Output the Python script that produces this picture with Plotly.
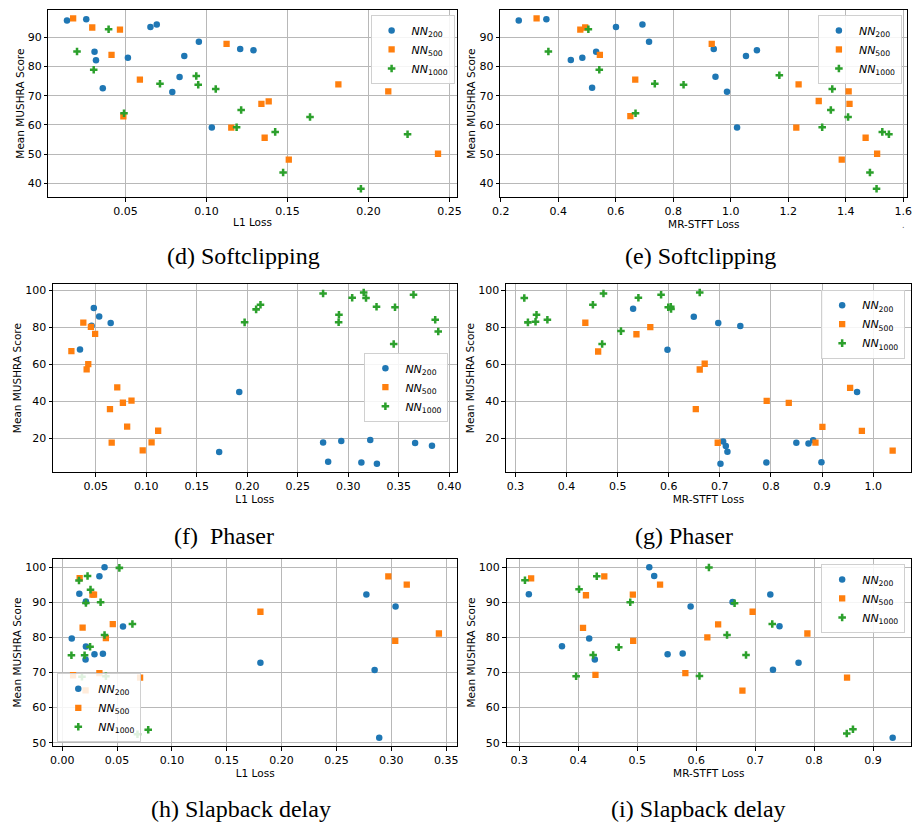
import plotly.graph_objects as go

# ---------------- data ----------------
# (d) Softclipping, L1 loss
d_nn200_x = [0.0139, 0.0258, 0.0309, 0.0318, 0.0360, 0.0515, 0.0654, 0.0693, 0.0789, 0.0834, 0.0863, 0.0953, 0.1033, 0.1208, 0.1290]
d_nn200_y = [95.8, 96.2, 85.1, 82.2, 72.6, 83.0, 93.6, 94.4, 71.3, 76.4, 83.6, 88.5, 59.1, 86.0, 85.6]
d_nn500_x = [0.0177, 0.0295, 0.0466, 0.0414, 0.0589, 0.0487, 0.1124, 0.1153, 0.1339, 0.1384, 0.1359, 0.1508, 0.1814, 0.2122, 0.2429]
d_nn500_y = [96.5, 93.4, 92.7, 84.0, 75.5, 62.9, 87.8, 59.1, 67.2, 68.1, 55.6, 48.1, 73.9, 71.5, 50.1]
d_nn1000_x = [0.0201, 0.0304, 0.0396, 0.0491, 0.0713, 0.0937, 0.0949, 0.1057, 0.1214, 0.1186, 0.1424, 0.1473, 0.1639, 0.1953, 0.2241]
d_nn1000_y = [85.2, 78.9, 92.8, 64.0, 74.1, 76.8, 73.8, 72.3, 65.1, 59.2, 57.6, 43.7, 62.7, 38.1, 56.8]

# (e) Softclipping, MR-STFT loss
e_nn200_x = [0.263, 0.359, 0.444, 0.484, 0.532, 0.518, 0.601, 0.693, 0.716, 0.941, 0.947, 0.987, 1.022, 1.053, 1.091]
e_nn200_y = [95.8, 96.2, 82.3, 83.0, 85.1, 72.7, 93.6, 94.4, 88.5, 86.0, 76.5, 71.4, 59.1, 83.6, 85.6]
e_nn500_x = [0.325, 0.477, 0.494, 0.545, 0.651, 0.668, 0.934, 1.228, 1.236, 1.306, 1.410, 1.413, 1.469, 1.509, 1.386]
e_nn500_y = [96.5, 92.7, 93.4, 84.0, 63.0, 75.5, 87.8, 59.1, 73.9, 68.2, 71.5, 67.2, 55.6, 50.1, 48.1]
e_nn1000_x = [0.366, 0.505, 0.543, 0.669, 0.736, 0.836, 1.169, 1.353, 1.348, 1.408, 1.318, 1.527, 1.550, 1.484, 1.507]
e_nn1000_y = [85.2, 92.8, 78.9, 64.0, 74.1, 73.8, 77.0, 72.3, 65.1, 62.7, 59.2, 57.6, 56.8, 43.7, 38.1]

# (f) Phaser, L1 loss
f_nn200_x = [0.0343, 0.0480, 0.0533, 0.0458, 0.0647, 0.1721, 0.1920, 0.2750, 0.2800, 0.2930, 0.3129, 0.3217, 0.3283, 0.3661, 0.3828]
f_nn200_y = [68.0, 90.3, 85.8, 80.8, 82.2, 12.6, 45.0, 17.7, 7.4, 18.6, 6.9, 19.1, 6.3, 17.5, 16.0]
f_nn500_x = [0.0258, 0.0376, 0.0425, 0.0409, 0.0451, 0.0493, 0.0640, 0.0657, 0.0712, 0.0768, 0.0853, 0.0810, 0.0964, 0.1052, 0.1117]
f_nn500_y = [67.1, 82.4, 60.1, 57.2, 80.2, 76.4, 35.8, 17.7, 47.5, 39.2, 40.3, 26.3, 13.5, 17.8, 24.1]
f_nn1000_x = [0.1973, 0.2087, 0.2130, 0.2750, 0.2907, 0.2904, 0.3038, 0.3152, 0.3175, 0.3279, 0.3449, 0.3462, 0.3645, 0.3860, 0.3890]
f_nn1000_y = [82.6, 89.6, 92.1, 98.2, 86.7, 82.7, 95.9, 98.7, 95.7, 91.0, 70.9, 90.7, 97.5, 84.0, 77.7]

# (g) Phaser, MR-STFT loss
g_nn200_x = [0.5303, 0.5975, 0.6490, 0.6968, 0.7400, 0.7064, 0.7116, 0.7148, 0.7012, 0.7910, 0.8496, 0.8734, 0.8825, 0.8987, 0.9684]
g_nn200_y = [89.9, 67.9, 85.6, 82.2, 80.6, 18.4, 15.9, 12.8, 6.4, 7.0, 17.7, 17.3, 19.1, 7.2, 45.0]
g_nn500_x = [0.4368, 0.4619, 0.5368, 0.5639, 0.6606, 0.6703, 0.6529, 0.6958, 0.7916, 0.8348, 0.8870, 0.9006, 0.9548, 0.9778, 1.0380]
g_nn500_y = [82.4, 66.9, 76.2, 80.0, 57.2, 60.3, 35.8, 17.7, 40.3, 39.2, 17.8, 26.3, 47.3, 24.1, 13.5]
g_nn1000_x = [0.3174, 0.3245, 0.3394, 0.3413, 0.3626, 0.4516, 0.4697, 0.4723, 0.5065, 0.5406, 0.5850, 0.5990, 0.6045, 0.6040, 0.6606]
g_nn1000_y = [95.7, 82.6, 82.9, 86.7, 84.0, 92.1, 70.9, 98.2, 77.9, 95.9, 97.5, 90.8, 89.8, 91.0, 98.7]

# (h) Slapback delay, L1 loss
h_nn200_x = [0.0386, 0.0339, 0.0156, 0.0216, 0.0554, 0.0087, 0.0216, 0.0294, 0.0371, 0.0213, 0.1807, 0.2773, 0.2848, 0.2890, 0.3039]
h_nn200_y = [100.0, 97.4, 92.4, 90.2, 83.1, 79.7, 77.4, 75.2, 75.3, 73.7, 72.8, 92.2, 70.7, 51.4, 88.8]
h_nn500_x = [0.0159, 0.0276, 0.0290, 0.0186, 0.0461, 0.0398, 0.0099, 0.0339, 0.0710, 0.0213, 0.1807, 0.2973, 0.3036, 0.3141, 0.3434]
h_nn500_y = [96.9, 92.2, 92.2, 82.8, 83.8, 79.8, 69.2, 69.8, 68.5, 64.9, 87.3, 97.4, 79.0, 95.0, 81.1]
h_nn1000_x = [0.0521, 0.0153, 0.0231, 0.0258, 0.0216, 0.0350, 0.0640, 0.0386, 0.0254, 0.0084, 0.0204, 0.0180, 0.0398, 0.0686, 0.0784]
h_nn1000_y = [99.8, 96.2, 97.5, 93.6, 89.8, 90.0, 83.8, 80.7, 77.3, 74.9, 74.9, 68.8, 68.9, 52.4, 53.7]

# (i) Slapback delay, MR-STFT loss
i_nn200_x = [0.3161, 0.3723, 0.4185, 0.4280, 0.5204, 0.5287, 0.5515, 0.5771, 0.5905, 0.6617, 0.7257, 0.7302, 0.7413, 0.7736, 0.9333]
i_nn200_y = [92.3, 77.5, 79.7, 73.7, 100.0, 97.5, 75.2, 75.4, 88.8, 90.1, 92.2, 70.8, 83.2, 72.8, 51.4]
i_nn500_x = [0.3200, 0.4080, 0.4130, 0.4291, 0.4441, 0.4925, 0.4931, 0.5387, 0.5816, 0.6189, 0.6372, 0.6784, 0.6957, 0.7886, 0.8559]
i_nn500_y = [96.8, 82.7, 92.0, 69.3, 97.4, 92.2, 79.0, 95.0, 69.8, 80.0, 83.7, 64.8, 87.3, 81.1, 68.5]
i_nn1000_x = [0.3095, 0.4013, 0.4252, 0.4313, 0.3963, 0.4686, 0.4881, 0.6055, 0.6216, 0.6523, 0.6651, 0.6845, 0.7290, 0.8554, 0.8659]
i_nn1000_y = [96.3, 93.7, 75.0, 97.4, 68.9, 77.2, 90.0, 69.0, 99.9, 80.7, 89.7, 75.0, 83.8, 52.6, 53.8]

series_names = ["<i>NN</i><sub>200</sub>", "<i>NN</i><sub>500</sub>", "<i>NN</i><sub>1000</sub>"]
captions = ["(d) Softclipping", "(e) Softclipping", "(f)\u00a0\u00a0Phaser", "(g) Phaser",
            "(h) Slapback delay", "(i) Slapback delay"]
x_titles = ["L1 Loss", "MR-STFT Loss", "L1 Loss", "MR-STFT Loss", "L1 Loss", "MR-STFT Loss"]
y_title = "Mean MUSHRA Score"

panel_data = [
    [(d_nn200_x, d_nn200_y), (d_nn500_x, d_nn500_y), (d_nn1000_x, d_nn1000_y)],
    [(e_nn200_x, e_nn200_y), (e_nn500_x, e_nn500_y), (e_nn1000_x, e_nn1000_y)],
    [(f_nn200_x, f_nn200_y), (f_nn500_x, f_nn500_y), (f_nn1000_x, f_nn1000_y)],
    [(g_nn200_x, g_nn200_y), (g_nn500_x, g_nn500_y), (g_nn1000_x, g_nn1000_y)],
    [(h_nn200_x, h_nn200_y), (h_nn500_x, h_nn500_y), (h_nn1000_x, h_nn1000_y)],
    [(i_nn200_x, i_nn200_y), (i_nn500_x, i_nn500_y), (i_nn1000_x, i_nn1000_y)],
]

# ---------------- style ----------------
W, H = 921, 822
colors = ["#1f77b4", "#ff7f0e", "#2ca02c"]
symbols = ["circle", "square", "cross"]
msizes = [6.5, 6.3, 6.3]

# plot areas in pixels: (left, right, top, bottom)
areas = [
    (41, 455, 10, 198), (499.3, 912.3, 10, 198),
    (45.7, 455, 285, 474), (505, 916, 285, 474),
    (45.7, 455.7, 560.7, 749), (505.7, 916, 560.7, 749),
]
x_dticks = [0.05, 0.2, 0.05, 0.1, 0.05, 0.1]
x_fmts = [".2f", ".1f", ".2f", ".1f", ".2f", ".1f"]
y_dticks = [10, 10, 20, 20, 10, 10]
# legend placement (x, y, xanchor, yanchor) in pixels
legend_pos = [
    (453, 15, "right", "top"), (906.7, 15, "right", "top"),
    (446.7, 354, "right", "top"), (910, 290.7, "right", "top"),
    (50, 745, "left", "bottom"), (910, 566, "right", "top"),
]
caption_pos = [(239, 257), (702, 257), (219, 538), (686, 538), (236, 812), (700, 812)]


def padded(vals):
    lo, hi = min(vals), max(vals)
    m = 0.05 * (hi - lo)
    return [lo - m, hi + m]


fig = go.Figure()
layout = dict(width=W, height=H, margin=dict(l=0, r=0, t=0, b=0),
              paper_bgcolor="white", plot_bgcolor="white", showlegend=True,
              annotations=[])

axis_common = dict(showline=True, linecolor="black", linewidth=1, mirror=True,
                   ticks="outside", ticklen=3.5, tickwidth=1, tickcolor="black",
                   showgrid=True, gridcolor="#b8b8b8", gridwidth=1, zeroline=False,
                   tickfont=dict(family="DejaVu Sans", size=11, color="black"),
                   tick0=0)

for p in range(6):
    n = p + 1
    xa = "x" if n == 1 else f"x{n}"
    ya = "y" if n == 1 else f"y{n}"
    lg = "legend" if n == 1 else f"legend{n}"
    all_x, all_y = [], []
    for s in range(3):
        xs, ys = panel_data[p][s]
        all_x += xs
        all_y += ys
        fig.add_trace(go.Scatter(
            x=xs, y=ys, mode="markers", name=series_names[s],
            marker=dict(color=colors[s], symbol=symbols[s], size=msizes[s], line=dict(width=0)),
            xaxis=xa, yaxis=ya, legend=lg, showlegend=True))
    l, r, t, b = areas[p]
    layout["xaxis" if n == 1 else f"xaxis{n}"] = dict(
        axis_common, domain=[l / W, r / W], anchor=ya, range=padded(all_x),
        dtick=x_dticks[p], tickformat=x_fmts[p],
        title=dict(text=x_titles[p], standoff=1,
                   font=dict(family="DejaVu Sans", size=10.5, color="black")))
    layout["yaxis" if n == 1 else f"yaxis{n}"] = dict(
        axis_common, domain=[1 - b / H, 1 - t / H], anchor=xa, range=padded(all_y),
        dtick=y_dticks[p],
        title=dict(text=y_title, standoff=1,
                   font=dict(family="DejaVu Sans", size=10.5, color="black")))
    lx, ly, xan, yan = legend_pos[p]
    layout[lg] = dict(x=lx / W, y=1 - ly / H, xanchor=xan, yanchor=yan,
                      xref="paper", yref="paper",
                      bgcolor="rgba(255,255,255,0.85)", bordercolor="#d0d0d0", borderwidth=1,
                      font=dict(family="DejaVu Sans", size=11, color="black"),
                      tracegroupgap=0, itemclick=False, itemwidth=30)
    cx, cy = caption_pos[p]
    layout["annotations"].append(dict(
        x=cx / W, y=1 - cy / H, xref="paper", yref="paper", showarrow=False,
        xanchor="center", yanchor="middle", text=captions[p],
        font=dict(family="Liberation Serif", size=24, color="black")))

# tiny stray mark from the source figure
layout["annotations"].append(dict(x=912 / W, y=1 - 220 / H, xref="paper", yref="paper",
                                  showarrow=False, text=".",
                                  font=dict(family="DejaVu Sans", size=8, color="#555555")))

fig.update_layout(**layout)
fig.write_html("out.html")
